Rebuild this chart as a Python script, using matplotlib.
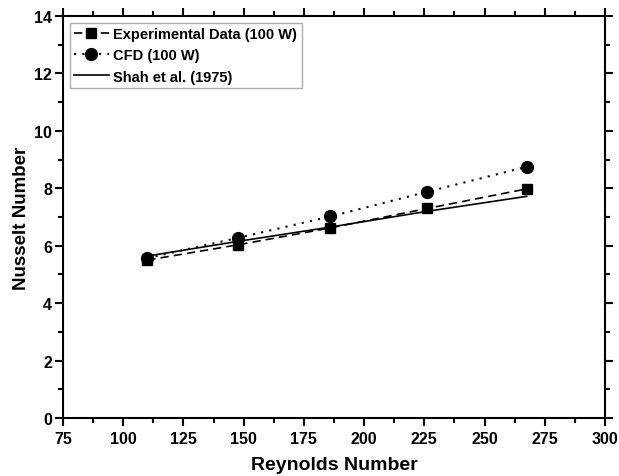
import matplotlib
matplotlib.use("Agg")
import matplotlib.pyplot as plt
from matplotlib.ticker import MultipleLocator

plt.rcParams['font.family'] = ['Liberation Sans', 'DejaVu Sans']
plt.rcParams['font.weight'] = 'bold'

reynolds = [110, 147.5, 186, 226.3, 267.5]
nu_exp = [5.50, 6.03, 6.62, 7.30, 7.98]
nu_cfd = [5.57, 6.27, 7.02, 7.88, 8.75]
nu_shah = [5.64, 6.15, 6.65, 7.20, 7.72]

fig = plt.figure(figsize=(6.19, 4.77), dpi=100)
ax = fig.add_axes([0.1018, 0.1216, 0.8756, 0.8427])

ax.plot(reynolds, nu_exp, linestyle=(0, (5, 3)), color='black', lw=1.2,
        marker='s', markersize=7.5, label='Experimental Data (100 W)')
ax.plot(reynolds, nu_cfd, linestyle=(0, (1, 3)), color='black', lw=1.5,
        marker='o', markersize=8.5, label='CFD (100 W)')
ax.plot(reynolds, nu_shah, linestyle='-', color='black', lw=1.2,
        label='Shah et al. (1975)')

ax.set_xlim(75, 300)
ax.set_ylim(0, 14)
ax.xaxis.set_major_locator(MultipleLocator(25))
ax.xaxis.set_minor_locator(MultipleLocator(12.5))
ax.yaxis.set_major_locator(MultipleLocator(2))
ax.yaxis.set_minor_locator(MultipleLocator(1))

for s in ax.spines.values():
    s.set_linewidth(1.5)
ax.tick_params(which='both', direction='out', top=True, right=True,
               labeltop=False, labelright=False, width=1.5)
ax.tick_params(which='major', length=6, labelsize=11.5)
ax.tick_params(which='minor', length=3.5)
ax.tick_params(axis='y', which='major', pad=2)
for lab in ax.get_xticklabels() + ax.get_yticklabels():
    lab.set_fontweight('bold')

ax.set_xlabel('Reynolds Number', fontsize=14, fontweight='bold', labelpad=7)
ax.set_ylabel('Nusselt Number', fontsize=13.5, fontweight='bold', labelpad=3)

leg = ax.legend(loc='upper left', fontsize=10.5, frameon=True, fancybox=False,
                edgecolor='#999999', handlelength=2.4, handletextpad=0.3,
                borderpad=0.3, labelspacing=0.5, borderaxespad=0.45)
leg.get_frame().set_linewidth(1.0)
for t in leg.get_texts():
    t.set_fontweight('bold')

fig.savefig('out.png', dpi=100)
